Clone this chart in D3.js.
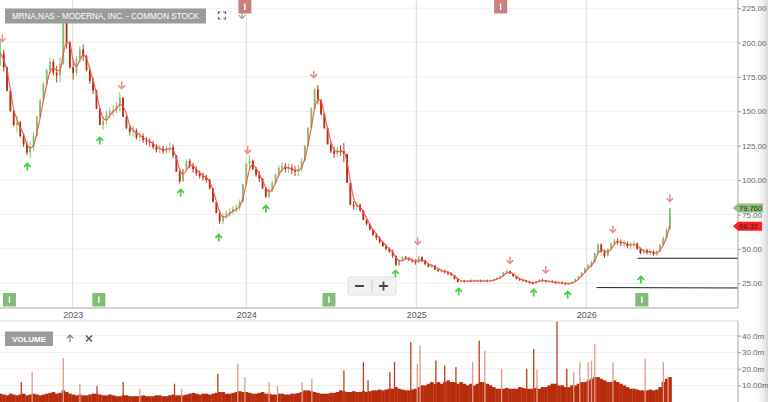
<!DOCTYPE html>
<html>
<head>
<meta charset="utf-8">
<script src="https://cdn.jsdelivr.net/npm/d3@7"></script>
<style>
  body { margin: 0; background: #fff; }
  svg { display: block; font-family: "Liberation Sans", Arial, sans-serif; }
</style>
</head>
<body>
<svg id="chart" width="768" height="402"></svg>
<script>
// ---- data ----
const title = "MRNA.NAS - MODERNA, INC. - COMMON STOCK";
const firstWeek = "2022-08-01";

// weekly closes (USD), one per week from firstWeek
const closes = [
  192, 182, 165, 150, 140, 142, 132, 126, 120, 124, 132, 146, 158, 170, 180, 186, 178, 176, 184, 215, 200,
  182, 178, 188, 195, 190, 180, 172, 165, 152, 140, 143, 148, 150, 151, 154, 160, 146, 138, 135, 136,
  131, 132, 129, 128, 127, 124, 122, 123, 121, 123, 124, 118, 106, 99, 108, 114, 110, 108, 105, 103, 102, 100, 94, 84, 76, 70, 74, 76, 77, 79, 80, 84, 97,
  112, 114, 108, 104, 101, 94, 88, 93, 98, 104, 109, 110, 108, 109, 107, 106, 108, 114, 125, 138, 152, 166, 158, 148, 138, 126, 121, 119, 122, 121, 119, 98, 82, 81, 82, 78, 71, 68, 64, 60, 58, 55, 52, 50, 48, 45, 38, 42, 44, 43, 42, 41, 40,
  44, 41, 39, 37, 38, 35, 34, 34, 33, 32, 31, 28, 26, 27, 26, 27, 26.5, 27, 27, 26.5, 27, 26.5, 27, 28, 29, 30, 33, 34, 32, 30, 28, 27.5, 27, 26, 25.5, 25, 26.5, 27.5, 27, 26, 26.5, 26, 25, 25.5, 25, 24.5, 25, 26, 28, 30, 33, 36,
  38, 40, 47, 53, 48, 45, 50, 54, 56, 55, 54, 54, 52, 53, 54, 50, 47, 49, 47, 48, 46, 48, 53, 58, 64, 79.76
];

// weekly high-low spread (USD)
const weeklySpread = [
  18, 16, 18, 14, 12, 12, 12, 10, 10, 12, 14, 16, 14, 14, 12, 12, 12, 12, 18, 30, 24,
  20, 14, 14, 12, 12, 12, 12, 12, 14, 12, 10, 10, 8, 8, 8, 14, 14, 10, 8, 8,
  8, 7, 7, 6, 6, 6, 6, 6, 6, 6, 8, 10, 10, 10, 8, 8, 7, 7, 7, 6, 6, 6, 8, 8, 8, 10, 8, 6, 6, 6, 6, 8, 10,
  10, 10, 8, 7, 8, 8, 8, 8, 8, 8, 8, 7, 7, 7, 7, 7, 8, 10, 12, 14, 16, 16, 14, 12, 12, 10, 8, 8, 8, 8, 14, 10, 6, 6, 6, 6, 5, 5, 5, 5, 5, 5, 4, 4, 4, 6, 5, 4, 4, 3, 3, 3, 4,
  5, 4, 4, 3, 3, 3, 3, 3, 3, 3, 3, 3, 3, 2, 2, 2, 2, 2, 2, 2, 2, 2, 2, 2, 2, 3, 3, 3, 2, 2, 2, 2, 2, 2, 2, 2, 2, 2, 2, 2, 2, 2, 2, 2, 2, 2, 2, 2, 3, 3, 3, 4,
  4, 5, 7, 8, 7, 6, 6, 6, 5, 5, 5, 5, 5, 5, 5, 5, 5, 4, 4, 4, 4, 4, 5, 7, 8, 10
];

// average daily volume per week (millions)
const weeklyVolume = [
  5, 4.5, 4, 5, 4.5, 4, 4.5, 5, 4, 4.5, 5, 4.5, 4, 4.5, 5, 5.5, 6, 5, 5.5, 7, 6,
  5, 4.5, 4, 4.5, 4, 4, 4.5, 5, 5, 4.5, 4, 4, 4.5, 4, 3.5, 3.5, 4, 4, 3.5, 3.5,
  3.5, 3.5, 4, 3.5, 3.5, 3.5, 4, 4, 3.5, 3.5, 4, 4.5, 4, 4, 4, 4.5, 5, 5.5, 5, 4.5, 5, 5, 4.5, 5, 5.5, 6, 6, 5, 5, 5.5, 6, 6.5, 6,
  6, 5.5, 5, 5, 5.5, 6, 5, 5, 4.5, 4.5, 5, 5, 4.5, 4.5, 5, 5, 5.5, 6, 7, 7, 6.5, 6, 5.5, 5, 5, 5, 5.5, 5.5, 6, 7, 6.5, 6, 6, 6.5, 6, 6, 6.5, 6, 6.5, 7, 7, 7.5, 7, 7.5, 8, 8, 9, 8, 7.5, 7, 7, 7.5, 8,
  9, 10, 10, 11, 12, 11, 12, 11, 12, 13, 12, 12, 11, 12, 11, 10, 11, 10, 11, 12, 12, 11, 10, 9, 8, 8, 8, 8.5, 8, 8, 8, 9, 8.5, 8, 8, 8, 8.5, 8, 9, 9, 10, 11, 11, 10, 10, 9, 9, 10, 10, 11, 12, 12,
  13, 14, 15, 15, 14, 13, 12, 12, 13, 12, 11, 10, 9, 8, 8, 7.5, 7, 7, 7, 7.5, 7, 7.5, 9, 12, 14, 15
];

// single-day volume spikes [date, millions]
const volumeSpikes = [
  ["2022-09-14", 12], ["2022-10-07", 18], ["2022-12-12", 26.5], ["2023-01-16", 11], ["2023-02-21", 9.6],
  ["2023-04-17", 12], ["2023-05-22", 8], ["2023-08-03", 11], ["2023-08-18", 8], ["2023-11-02", 17],
  ["2023-12-14", 23], ["2023-12-29", 15], ["2024-02-19", 12], ["2024-03-08", 9.6], ["2024-04-30", 12],
  ["2024-05-21", 14], ["2024-07-29", 19], ["2024-09-09", 24], ["2024-09-19", 13], ["2024-11-05", 18],
  ["2024-11-15", 24], ["2024-12-20", 36], ["2025-01-03", 23], ["2025-01-09", 34], ["2025-02-12", 25],
  ["2025-03-03", 22], ["2025-03-27", 21], ["2025-05-02", 24], ["2025-05-16", 37], ["2025-05-28", 31],
  ["2025-07-03", 20], ["2025-08-26", 20], ["2025-09-10", 32], ["2025-09-17", 19.6], ["2025-10-30", 49],
  ["2025-11-20", 20], ["2025-12-05", 18], ["2025-12-18", 24], ["2026-01-05", 24], ["2026-01-12", 25],
  ["2026-01-19", 35], ["2026-02-27", 24], ["2026-05-07", 26], ["2026-06-15", 24], ["2026-06-25", 15]
];

// signal arrows [date, price level]
const upArrows = [
  ["2022-09-27", 109.5], ["2023-02-27", 128.4], ["2023-08-16", 90.6], ["2023-11-04", 57.9], ["2024-02-12", 79],
  ["2024-11-17", 31.8], ["2025-04-02", 18.7], ["2025-09-10", 18], ["2025-11-22", 16.5], ["2026-04-28", 27.4]
];
const downArrows = [
  ["2022-08-05", 203.3], ["2023-04-14", 169], ["2024-01-04", 122], ["2024-05-25", 177], ["2025-01-04", 55.8],
  ["2025-07-21", 42], ["2025-10-06", 35], ["2026-02-27", 64.5], ["2026-06-29", 87]
];

// "I" event flags
const flagsBottom = ["2022-08-20", "2023-02-25", "2024-06-27", "2026-04-30"];
const flagsTop = ["2023-12-29", "2025-07-01"];

// drawn support lines [start date, start price, end price]
const trendLines = [
  ["2026-04-21", 43.2, 43.2],
  ["2026-01-23", 21.9, 21.6]
];

const priceTicks = [25, 50, 75, 100, 125, 150, 175, 200, 225];
const volumeTicks = [10, 20, 30, 40];
const volumeTickLabels = ["10.00m", "20.0m", "30.0m", "40.0m"];
const yearTicks = ["2023-01-01", "2024-01-01", "2025-01-01", "2026-01-01"];
const lastCloseLabel = "79.760";
const maValue = 66.37;
const maLabel = "66.37";

// ---- layout ----
const svg = d3.select("#chart");
const W = 768, H = 402;
const plotRight = 738;
const mainBottom = 308;
const volTop = 321, volBottom = 402;

const parse = d3.timeParse("%Y-%m-%d");
const week0 = parse(firstWeek);
const weekDate = i => d3.timeDay.offset(week0, 7 * i);

const x = d3.scaleTime()
  .domain(["2022-07-31", ...yearTicks, "2026-11-22"].map(parse))
  .range([0, 72.7, 246.3, 416.3, 586.3, plotRight]);
const y = d3.scaleLinear().domain([25, 225]).range([283.3, 8.1]);
const yv = d3.scaleLinear().domain([0, 48.8]).range([volBottom, volTop]);

const defs = svg.append("defs");
defs.append("clipPath").attr("id", "clipMain")
  .append("rect").attr("x", 0).attr("y", 0).attr("width", plotRight).attr("height", mainBottom);
defs.append("clipPath").attr("id", "clipVol")
  .append("rect").attr("x", 0).attr("y", volTop).attr("width", plotRight).attr("height", volBottom - volTop);
const grad = defs.append("linearGradient").attr("id", "edge").attr("x1", 0).attr("x2", 1);
grad.append("stop").attr("offset", 0).attr("stop-color", "#fff").attr("stop-opacity", 0);
grad.append("stop").attr("offset", 1).attr("stop-color", "#d6d6d6");

// grid lines
svg.append("g").selectAll("line").data(priceTicks).join("line")
  .attr("x1", 0).attr("x2", plotRight)
  .attr("y1", d => y(d)).attr("y2", d => y(d))
  .attr("stroke", "#efefef");
svg.append("g").selectAll("line").data(yearTicks.map(parse)).join("line")
  .attr("x1", d => x(d)).attr("x2", d => x(d))
  .attr("y1", 0).attr("y2", mainBottom)
  .attr("stroke", "#dcdcdc");
svg.append("g").selectAll("line").data(volumeTicks).join("line")
  .attr("x1", 0).attr("x2", plotRight)
  .attr("y1", d => yv(d)).attr("y2", d => yv(d))
  .attr("stroke", "#efefef");

// right-edge shade
svg.append("rect").attr("x", 753).attr("y", 0).attr("width", 15).attr("height", H).attr("fill", "url(#edge)");

// volume
const bars = closes.map((c, i) => {
  const open = i === 0 ? c : closes[i - 1];
  const mid = (open + c) / 2, half = weeklySpread[i] / 2;
  return {
    date: weekDate(i),
    open, close: c,
    high: Math.max(open, c, mid + half),
    low: Math.min(open, c, mid - half),
    vol: weeklyVolume[i]
  };
});
const step = x(weekDate(1)) - x(weekDate(0));
const vol = svg.append("g").attr("clip-path", "url(#clipVol)");
vol.selectAll("rect.base").data(bars).join("rect")
  .attr("class", "base")
  .attr("x", d => x(d.date) - step / 2)
  .attr("width", step + 0.3)
  .attr("y", d => yv(d.vol))
  .attr("height", d => volBottom - yv(d.vol))
  .attr("fill", "#b72d0c");
const weekIndex = d => Math.max(0, Math.min(closes.length - 1, Math.round((d - week0) / (7 * 864e5))));
vol.selectAll("rect.spike").data(volumeSpikes).join("rect")
  .attr("class", "spike")
  .attr("x", d => x(parse(d[0])) - 0.6)
  .attr("width", 1.3)
  .attr("y", d => yv(d[1]))
  .attr("height", d => volBottom - yv(d[1]))
  .attr("fill", d => {
    const b = bars[weekIndex(parse(d[0]))];
    return b.close >= b.open ? "#e29a8a" : "#c23a1a";
  });

// price bars
const main = svg.append("g").attr("clip-path", "url(#clipMain)");
const barColor = d => d.close >= d.open ? "#80bf6c" : "#b3300e";
main.selectAll("line.wick").data(bars).join("line")
  .attr("class", "wick")
  .attr("x1", d => x(d.date)).attr("x2", d => x(d.date))
  .attr("y1", d => y(d.high)).attr("y2", d => y(d.low))
  .attr("stroke", barColor).attr("stroke-width", 0.9);
main.selectAll("rect.bar").data(bars).join("rect")
  .attr("class", "bar")
  .attr("x", d => x(d.date) - 0.9)
  .attr("width", 1.8)
  .attr("y", d => y(Math.max(d.open, d.close)))
  .attr("height", d => Math.max(1, Math.abs(y(d.open) - y(d.close))))
  .attr("fill", barColor);

// moving average of closes (3 weeks)
const ma = bars.map((d, i) => ({
  date: d.date,
  value: d3.mean(closes.slice(Math.max(0, i - 2), i + 1))
}));
main.append("path").datum(ma)
  .attr("fill", "none")
  .attr("stroke", "#ff4a4a")
  .attr("stroke-width", 1.2)
  .attr("stroke-opacity", 0.9)
  .attr("d", d3.line().curve(d3.curveMonotoneX).x(d => x(d.date)).y(d => y(d.value)));

// trend lines
main.selectAll("line.trend").data(trendLines).join("line")
  .attr("x1", d => x(parse(d[0]))).attr("x2", plotRight)
  .attr("y1", d => y(d[1])).attr("y2", d => y(d[2]))
  .attr("stroke", "#222").attr("stroke-width", 1);

// arrows
const arrowUp = "M0,3.5V-3.5M-3.3,-0.2L0,-3.5L3.3,-0.2";
const arrowDown = "M0,-3.5V3.5M-3.3,0.2L0,3.5L3.3,0.2";
main.selectAll("path.up").data(upArrows).join("path")
  .attr("class", "up")
  .attr("transform", d => `translate(${x(parse(d[0]))},${y(d[1])})`)
  .attr("d", arrowUp)
  .attr("fill", "none").attr("stroke", "#3cd23c").attr("stroke-width", 1.7);
main.selectAll("path.down").data(downArrows).join("path")
  .attr("class", "down")
  .attr("transform", d => `translate(${x(parse(d[0]))},${y(d[1])})`)
  .attr("d", arrowDown)
  .attr("fill", "none").attr("stroke", "#f08a8a").attr("stroke-width", 1.5);

// event flags
function flag(g, dates, yTop, fill) {
  const f = g.selectAll(null).data(dates).join("g")
    .attr("transform", d => `translate(${x(parse(d))},${yTop})`);
  f.append("rect").attr("x", -6.5).attr("y", 0).attr("width", 13).attr("height", 13.5)
    .attr("fill", fill);
  f.append("line").attr("x1", 0).attr("x2", 0).attr("y1", 3.5).attr("y2", 10)
    .attr("stroke", "#fff").attr("stroke-width", 1.4);
}
flag(svg.append("g"), flagsBottom, 293, "#7fbe74");
flag(svg.append("g"), flagsTop, 0, "#c98080");

// axes frame
svg.append("line").attr("x1", plotRight).attr("x2", plotRight).attr("y1", 0).attr("y2", mainBottom)
  .attr("stroke", "#aaa");
svg.append("line").attr("x1", 0).attr("x2", plotRight).attr("y1", mainBottom).attr("y2", mainBottom)
  .attr("stroke", "#aaa");
svg.append("line").attr("x1", 0).attr("x2", plotRight).attr("y1", volTop).attr("y2", volTop)
  .attr("stroke", "#ddd");
svg.append("line").attr("x1", plotRight).attr("x2", plotRight).attr("y1", volTop).attr("y2", volBottom)
  .attr("stroke", "#aaa");

// right price axis
const yAxis = d3.axisRight(y).tickValues(priceTicks).tickSize(3).tickFormat(d3.format(".2f"));
const ya = svg.append("g").attr("transform", `translate(${plotRight},0)`).call(yAxis);
ya.select(".domain").remove();
ya.selectAll("line").attr("stroke", "#999");
ya.selectAll("text").attr("x", 4).attr("fill", "#666").style("font-size", "8px")
  .style("font-family", "'Liberation Sans', Arial, sans-serif");

// volume axis
const yvAxis = d3.axisRight(yv).tickValues(volumeTicks).tickSize(3)
  .tickFormat((d, i) => volumeTickLabels[i]);
const yva = svg.append("g").attr("transform", `translate(${plotRight},0)`).call(yvAxis);
yva.select(".domain").remove();
yva.selectAll("line").attr("stroke", "#999");
yva.selectAll("text").attr("x", 4).attr("fill", "#666").style("font-size", "8px")
  .style("font-family", "'Liberation Sans', Arial, sans-serif");

// date axis
const xAxis = d3.axisBottom(x).tickValues(yearTicks.map(parse)).tickSize(0).tickFormat(d3.timeFormat("%Y"));
const xa = svg.append("g").attr("transform", `translate(0,${mainBottom})`).call(xAxis);
xa.select(".domain").remove();
xa.selectAll("text").attr("y", 4).attr("fill", "#555").style("font-size", "9px")
  .style("font-family", "'Liberation Sans', Arial, sans-serif");

// last value tags
function tag(value, text, fill, width) {
  const cy = y(value);
  const g = svg.append("g").attr("transform", `translate(733,${cy})`);
  g.append("path").attr("d", `M0,0L5,-4.5H${width}V4.5H5Z`).attr("fill", fill);
  g.append("text").attr("x", 6).attr("y", 2.7).attr("fill", "#2a2a2a")
    .style("font-size", "7.5px").text(text);
}
tag(closes[closes.length - 1], lastCloseLabel, "#8dc27c", 30);
tag(maValue, maLabel, "#ff1e1e", 29);

// title box
svg.append("rect").attr("x", 5).attr("y", 8.5).attr("width", 201).attr("height", 15).attr("fill", "#9b9b9b");
svg.append("text").attr("x", 12).attr("y", 19.2)
  .attr("textLength", 187).attr("lengthAdjust", "spacingAndGlyphs")
  .attr("fill", "#fff").style("font-size", "8.5px").text(title);

// toolbar icons
const fs = svg.append("g").attr("transform", "translate(222,15.5)")
  .attr("fill", "none").attr("stroke", "#555").attr("stroke-width", 1.2);
fs.append("path").attr("d", "M-3.5,-1.5V-3.5H-1.5M1.5,-3.5H3.5V-1.5M3.5,1.5V3.5H1.5M-1.5,3.5H-3.5V1.5");
svg.append("path").attr("transform", "translate(242,15)").attr("d", arrowDown)
  .attr("fill", "none").attr("stroke", "#999").attr("stroke-width", 1.2);

// zoom buttons
const zb = svg.append("g").attr("transform", "translate(348,277)");
zb.append("rect").attr("width", 48).attr("height", 18).attr("rx", 2)
  .attr("fill", "#f1f1f1").attr("stroke", "#e0e0e0");
zb.append("line").attr("x1", 24).attr("x2", 24).attr("y1", 3).attr("y2", 15).attr("stroke", "#ccc");
zb.append("path").attr("d", "M7,9H16M31,9H40M35.5,4.5V13.5")
  .attr("stroke", "#444").attr("stroke-width", 1.8);

// volume label
svg.append("rect").attr("x", 5).attr("y", 331.5).attr("width", 48).attr("height", 14.5).attr("fill", "#9b9b9b");
svg.append("text").attr("x", 29).attr("y", 341.8).attr("text-anchor", "middle")
  .attr("fill", "#fff").style("font-size", "8px").style("font-weight", "bold").text("VOLUME");
svg.append("path").attr("transform", "translate(70,338.5)").attr("d", arrowUp)
  .attr("fill", "none").attr("stroke", "#777").attr("stroke-width", 1.1);
svg.append("path").attr("transform", "translate(89,338.5)").attr("d", "M-3,-3L3,3M3,-3L-3,3")
  .attr("fill", "none").attr("stroke", "#555").attr("stroke-width", 1.4);
</script>
</body>
</html>
